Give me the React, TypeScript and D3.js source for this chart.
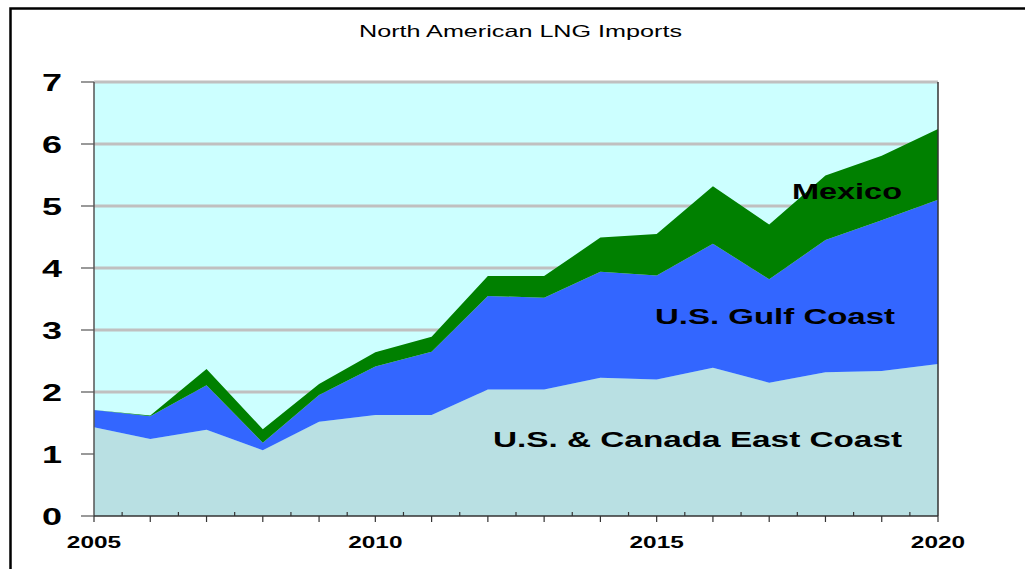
import React from "react";
import * as d3 from "d3";

const years = [2005, 2006, 2007, 2008, 2009, 2010, 2011, 2012, 2013, 2014, 2015, 2016, 2017, 2018, 2019, 2020];
// values per series (stacked)
const eastCoast = [1.43, 1.24, 1.39, 1.06, 1.52, 1.63, 1.63, 2.04, 2.04, 2.23, 2.2, 2.39, 2.15, 2.32, 2.34, 2.45];
const gulfCoast = [0.28, 0.37, 0.72, 0.12, 0.43, 0.78, 1.02, 1.51, 1.48, 1.71, 1.68, 2.0, 1.67, 2.13, 2.43, 2.65];
const mexico = [0.0, 0.01, 0.26, 0.22, 0.18, 0.23, 0.24, 0.32, 0.35, 0.55, 0.67, 0.93, 0.88, 1.04, 1.04, 1.14];
const yTicks = [0, 1, 2, 3, 4, 5, 6, 7];
const xLabels = [2005, 2010, 2015, 2020];
const seriesNames = ["U.S. & Canada East Coast", "U.S. Gulf Coast", "Mexico"];
const seriesColors = ["#b9e0e3", "#3366ff", "#008000"];

export default function App() {
  const left = 94, right = 938, top = 82, bottom = 516;
  const x = d3.scaleLinear().domain([2005, 2020]).range([left, right]);
  const y = d3.scaleLinear().domain([0, 7]).range([bottom, top]);

  const table = years.map((yr, i) => ({ year: yr, s0: eastCoast[i], s1: gulfCoast[i], s2: mexico[i] }));
  const stacked = d3.stack<any>().keys(["s0", "s1", "s2"])(table);
  const area = d3
    .area<any>()
    .x((d) => x(d.data.year))
    .y0((d) => y(d[0]))
    .y1((d) => y(d[1]));

  const majorTicks = d3.range(2005, 2021, 1);
  const minorTicks = d3.range(2005.5, 2020, 1);

  const labels = [
    { text: seriesNames[0], x: 493, y: 447, w: 409 },
    { text: seriesNames[1], x: 655, y: 324, w: 240 },
    { text: seriesNames[2], x: 792, y: 199, w: 110 },
  ];

  return (
    <svg width={1025} height={569} style={{ position: "absolute", left: 0, top: 0, fontFamily: "Arial, 'Liberation Sans', sans-serif" }}>
      <rect x={0} y={0} width={1025} height={569} fill="#ffffff" />
      <rect x={10.5} y={8.5} width={1040} height={620} fill="none" stroke="#000" strokeWidth={2.5} />
      <text x={359} y={37} fontSize={16.5} fill="#000" textLength={323} lengthAdjust="spacingAndGlyphs">North American LNG Imports</text>

      <rect x={left} y={top} width={right - left} height={bottom - top} fill="#ccffff" />
      {yTicks.filter((t) => t > 0).map((t) => (
        <line key={t} x1={left} x2={right} y1={y(t)} y2={y(t)} stroke="#c0c0c0" strokeWidth={3} />
      ))}
      {stacked.map((s, i) => (
        <path key={i} d={area(s) || ""} fill={seriesColors[i]} />
      ))}
      <line x1={right} x2={right} y1={top} y2={bottom} stroke="#333" strokeWidth={1.5} />
      <line x1={left} x2={left} y1={top} y2={bottom} stroke="#555" strokeWidth={1.5} />
      <line x1={left} x2={right} y1={bottom} y2={bottom} stroke="#333" strokeWidth={1.5} />
      {yTicks.map((t) => (
        <g key={t}>
          <line x1={81} x2={left} y1={y(t)} y2={y(t)} stroke="#555" strokeWidth={1.2} />
          <text transform={`translate(62,${y(t)}) scale(1.5,1)`} dy="0.36em" textAnchor="end" fontSize={24} fontWeight="bold" fill="#000">{t}</text>
        </g>
      ))}
      {majorTicks.map((t) => (
        <line key={"M" + t} x1={x(t)} x2={x(t)} y1={bottom} y2={bottom + 6} stroke="#333" strokeWidth={1.2} />
      ))}
      {minorTicks.map((t) => (
        <line key={"m" + t} x1={x(t)} x2={x(t)} y1={bottom} y2={bottom - 4} stroke="#333" strokeWidth={1.2} />
      ))}
      {xLabels.map((t) => (
        <text key={t} transform={`translate(${x(t)},548) scale(1.48,1)`} textAnchor="middle" fontSize={16.5} fontWeight="bold" fill="#000">{t}</text>
      ))}
      {labels.map((l) => (
        <text key={l.text} x={l.x} y={l.y} fontSize={22} fontWeight="bold" fill="#000" textLength={l.w} lengthAdjust="spacingAndGlyphs">{l.text}</text>
      ))}
    </svg>
  );
}
